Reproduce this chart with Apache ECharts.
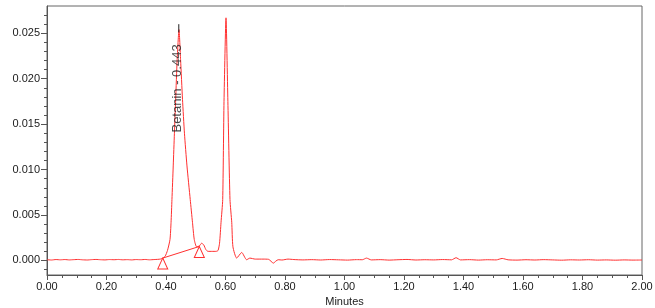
<!DOCTYPE html>
<html>
<head>
<meta charset="utf-8">
<script src="https://cdn.jsdelivr.net/npm/echarts@6/dist/echarts.min.js"></script>
<style>
html,body{margin:0;padding:0;background:#fff;}
#chart{width:655px;height:308px;}
</style>
</head>
<body>
<div id="chart"></div>
<script>
// Chromatogram trace (minutes, AU)
const times = [0.000,0.015,0.030,0.045,0.060,0.075,0.090,0.105,0.120,0.135,0.150,0.165,0.180,0.195,0.210,0.225,0.240,0.255,0.270,0.285,0.300,0.315,0.330,0.345,0.360,0.372,0.382,0.390,0.397,0.405,0.4134,0.417,0.420,0.4243,0.4283,0.4325,0.4375,0.4437,0.449,0.4555,0.462,0.4705,0.4815,0.489,0.495,0.503,0.512,0.520,0.527,0.534,0.541,0.555,0.568,0.575,0.580,0.585,0.5906,0.595,0.6017,0.608,0.6151,0.621,0.625,0.6376,0.6545,0.671,0.682,0.700,0.726,0.745,0.761,0.770,0.777,0.790,0.810,0.830,0.860,0.890,0.920,0.950,0.980,1.010,1.040,1.060,1.074,1.090,1.120,1.150,1.180,1.210,1.240,1.270,1.300,1.330,1.360,1.375,1.390,1.420,1.450,1.480,1.510,1.530,1.550,1.580,1.610,1.640,1.670,1.700,1.730,1.760,1.790,1.820,1.850,1.880,1.910,1.940,1.970,2.000];
const au = [0.00008,0.00005,0.00010,0.00007,0.00010,0.00006,0.00009,0.00011,0.00007,0.00005,0.00009,0.00011,0.00008,0.00006,0.00010,0.00008,0.00011,0.00007,0.00009,0.00006,0.00010,0.00008,0.00011,0.00007,0.00010,0.00012,0.00016,0.00026,0.00045,0.0011,0.0023,0.0042,0.0067,0.0104,0.0140,0.0177,0.0221,0.0254,0.0221,0.0177,0.0140,0.0104,0.0067,0.0042,0.0023,0.0015,0.0016,0.0019,0.0017,0.0012,0.0010,0.0010,0.0010,0.0011,0.0019,0.0042,0.0067,0.0175,0.0267,0.0175,0.0067,0.0042,0.0015,0.00026,0.00088,0.00008,0.00026,0.00015,0.00015,0.00012,-0.00029,-0.00005,0.00008,0.00005,0.00015,0.00010,0.00006,0.00009,0.00005,0.00010,0.00007,0.00004,0.00009,0.00008,0.00026,0.00006,0.00009,0.00004,0.00008,0.00011,0.00005,0.00008,0.00006,0.00010,0.00007,0.00030,0.00006,0.00009,0.00004,0.00008,0.00006,0.00022,0.00007,0.00004,0.00008,0.00005,0.00009,0.00006,0.00003,0.00007,0.00005,0.00008,0.00004,0.00006,0.00003,0.00006,0.00004,0.00005];

// Integration baseline (start / end) for the Betanin peak
const baseTimes = [0.389, 0.512];
const baseAU = [0.00026, 0.00154];

// Peak annotation
const peakName = 'Betanin';
const peakTime = 0.443;
const peakTickAU = [0.0251, 0.0260];

// Axis ticks
const yTickValues = [0.000, 0.005, 0.010, 0.015, 0.020, 0.025];
const yMin = -0.0016, yMax = 0.028;
const xMin = 0, xMax = 2.0, xStep = 0.2;

const yMinorTicks = [];
for (let k = -1; k <= 27; k++) { if (k % 5 !== 0) yMinorTicks.push(k / 1000); }

const trace = times.map((t, i) => [t, au[i]]);
const baseline = baseTimes.map((t, i) => [t, baseAU[i]]);
const apexTick = peakTickAU.map(v => [peakTime, v]);

const red = '#ff3030';
const axisCol = '#555';
const txt = '#1a1a1a';
const font = 'Liberation Sans, Arial, sans-serif';

const chart = echarts.init(document.getElementById('chart'), null, {renderer: 'canvas'});
chart.setOption({
  animation: false,
  backgroundColor: '#fff',
  grid: {left: 47, right: 13, top: 6, bottom: 33, outerBoundsMode: 'none', containLabel: false,
         show: true, borderColor: '#666', borderWidth: 1, backgroundColor: 'transparent'},
  xAxis: {
    type: 'value', min: xMin, max: xMax, interval: xStep,
    name: 'Minutes', nameLocation: 'middle', nameGap: 20,
    nameTextStyle: {color: txt, fontSize: 11, fontFamily: font},
    axisLine: {show: true, onZero: false, lineStyle: {color: axisCol, width: 1}},
    axisTick: {show: true, length: 5, inside: false, lineStyle: {color: axisCol}},
    minorTick: {show: true, splitNumber: 4, length: 3, lineStyle: {color: axisCol}},
    axisLabel: {color: txt, fontSize: 11, fontFamily: font, margin: 6, formatter: v => v.toFixed(2)},
    splitLine: {show: false}, minorSplitLine: {show: false}
  },
  yAxis: [{
    type: 'value', min: yMin, max: yMax,
    name: 'AU', nameLocation: 'middle', nameGap: 34, nameRotate: 90,
    nameTextStyle: {color: txt, fontSize: 11, fontFamily: font},
    axisLine: {show: true, onZero: false, lineStyle: {color: axisCol, width: 1}},
    axisTick: {show: true, length: 6, customValues: yTickValues, lineStyle: {color: axisCol}},
    axisLabel: {color: txt, fontSize: 11, fontFamily: font, margin: 7, customValues: yTickValues, formatter: v => v.toFixed(3)},
    splitLine: {show: false}
  }, {
    type: 'value', min: yMin, max: yMax, position: 'left',
    axisLine: {show: false},
    axisTick: {show: true, length: 3, customValues: yMinorTicks, lineStyle: {color: axisCol}},
    axisLabel: {show: false},
    splitLine: {show: false}
  }],
  series: [{
    type: 'line', data: trace, yAxisIndex: 0,
    symbol: 'none', smooth: 0.2,
    lineStyle: {color: red, width: 1},
    z: 3
  }, {
    type: 'line', data: baseline, yAxisIndex: 0,
    symbol: 'triangle', symbolSize: [10, 11], symbolOffset: [0, 5.5], showSymbol: true,
    itemStyle: {color: 'rgba(255,255,255,0)', borderColor: red, borderWidth: 1},
    lineStyle: {color: red, width: 1},
    z: 4
  }, {
    type: 'line', data: apexTick, yAxisIndex: 0,
    symbol: 'none',
    lineStyle: {color: '#222', width: 1},
    z: 5
  }, {
    type: 'scatter', yAxisIndex: 0,
    data: [[peakTime, peakTickAU[0]]],
    symbolSize: 0,
    label: {
      show: true, position: 'inside', offset: [-12, -1], rotate: 90,
      align: 'right', verticalAlign: 'middle',
      formatter: peakName + ' - ' + peakTime.toFixed(3),
      color: txt, fontSize: 13, fontFamily: font
    },
    z: 6
  }]
});
</script>
</body>
</html>
